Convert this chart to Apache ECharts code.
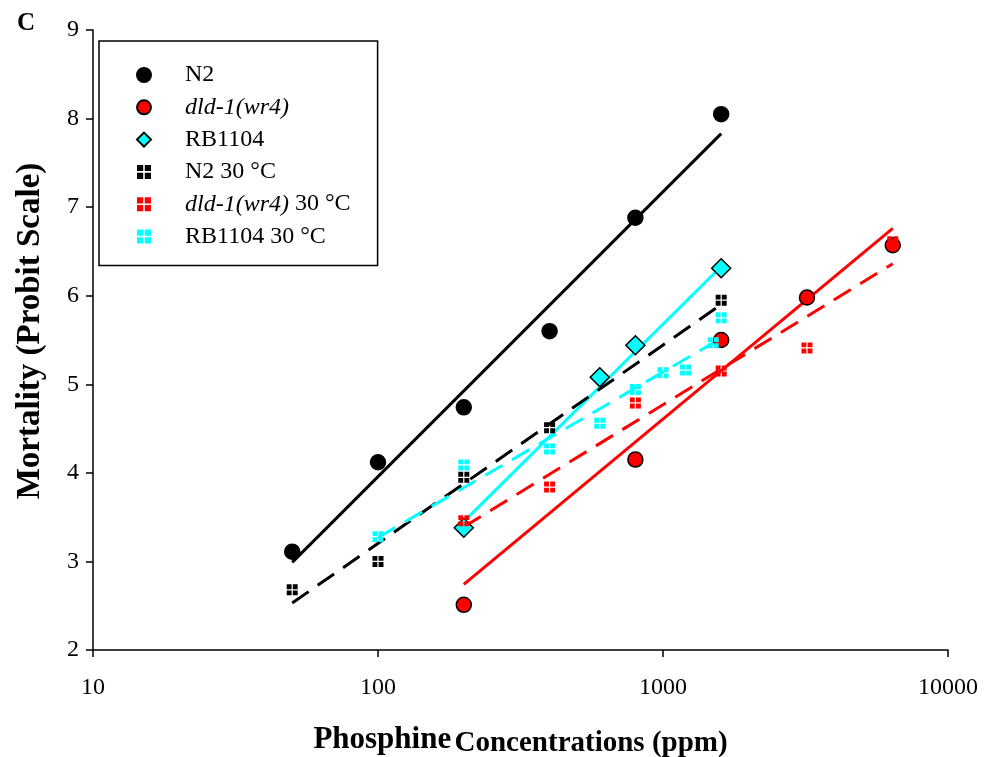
<!DOCTYPE html>
<html><head><meta charset="utf-8">
<script src="https://cdn.jsdelivr.net/npm/echarts@6/dist/echarts.min.js"></script>
<style>html,body{margin:0;padding:0;background:#fff}#c{width:986px;height:757px}</style>
</head><body><div id="c"></div>
<script>
// ---- data ----
const n2X = [50, 100, 200, 400, 800, 1600];
const n2Y = [3.11, 4.12, 4.74, 5.60, 6.88, 8.05];
const dldX = [200, 800, 1600, 3200, 6400];
const dldY = [2.51, 4.15, 5.50, 5.98, 6.57];
const rbX = [200, 600, 800, 1600];
const rbY = [3.38, 5.08, 5.44, 6.31];
const n2hX = [50, 100, 200, 400, 1600];
const n2hY = [2.68, 3.00, 3.95, 4.51, 5.95];
const dldhX = [200, 400, 800, 1600, 3200, 6400];
const dldhY = [3.46, 3.84, 4.79, 5.15, 5.41, 6.61];
const rbhX = [100, 200, 400, 600, 800, 1000, 1200, 1500, 1600];
const rbhY = [3.28, 4.09, 4.27, 4.56, 4.94, 5.13, 5.16, 5.47, 5.75];
// fitted regression lines (endpoints)
const fitN2 = [[50, 2.99], [1600, 7.83]];
const fitDld = [[200, 2.74], [6400, 6.76]];
const fitRb = [[200, 3.45], [1600, 6.33]];
const fitN2h = [[50, 2.53], [1600, 5.90]];
const fitDldh = [[200, 3.39], [6400, 6.36]];
const fitRbh = [[100, 3.27], [1600, 5.52]];
const xTicks = [10, 100, 1000, 10000];
const yTicks = [2, 3, 4, 5, 6, 7, 8, 9];
const names = ['N2', 'dld-1(wr4)', 'RB1104', 'N2 30 °C', 'dld-1(wr4) 30 °C', 'RB1104 30 °C'];

const zip = (xs, ys) => xs.map((x, i) => [x, ys[i]]);
const FONT = 'Liberation Serif';
const quad = 'path://M0,0H4V4H0Z M5,0H9V4H5Z M0,5H4V9H0Z M5,5H9V9H5Z';

function scatter(name, data, symbol, size, color, border) {
  return {
    name, type: 'scatter', data, symbol, symbolSize: size, z: 5,
    itemStyle: { color, borderColor: border ? '#000' : color, borderWidth: border ? 1.5 : 0, opacity: 1 }
  };
}
function fit(data, color, dashed) {
  return {
    type: 'line', data, symbol: 'none', silent: true, z: 3,
    lineStyle: { color, width: 3, type: dashed ? [20, 11] : 'solid' }
  };
}

const chart = echarts.init(document.getElementById('c'));
chart.setOption({
  animation: false,
  backgroundColor: '#fff',
  title: { text: 'C', left: 12, top: 6, textStyle: { fontFamily: FONT, fontWeight: 'bold', fontSize: 25, color: '#000' } },
  grid: { left: 93, right: 38, top: 30, bottom: 107, containLabel: false, outerBoundsMode: 'none' },
  xAxis: {
    type: 'log', logBase: 10, min: xTicks[0], max: xTicks[xTicks.length - 1],
    axisLine: { lineStyle: { color: '#000', width: 1.5 } },
    axisTick: { inside: false, length: 7, lineStyle: { color: '#000', width: 1.5 } },
    minorTick: { show: false }, splitLine: { show: false },
    axisLabel: { fontFamily: FONT, fontSize: 24, color: '#000', margin: 26, formatter: v => String(Math.round(v)) },
    name: '{a|Phosphine} {b|Concentrations (ppm)}', nameLocation: 'middle', nameGap: 72,
    nameTextStyle: { rich: {
      a: { fontFamily: FONT, fontWeight: 'bold', fontSize: 31, color: '#000' },
      b: { fontFamily: FONT, fontWeight: 'bold', fontSize: 29, color: '#000', padding: [7, 0, 0, 0] } } }
  },
  yAxis: {
    type: 'value', min: yTicks[0], max: yTicks[yTicks.length - 1], interval: 1,
    axisLine: { show: true, lineStyle: { color: '#000', width: 1.5 } },
    axisTick: { show: true, inside: false, length: 7, lineStyle: { color: '#000', width: 1.5 } },
    splitLine: { show: false },
    axisLabel: { fontFamily: FONT, fontSize: 24, color: '#000', margin: 14 },
    name: 'Mortality (Probit Scale)', nameLocation: 'middle', nameGap: 46,
    nameTextStyle: { fontFamily: FONT, fontWeight: 'bold', fontSize: 33, color: '#000', padding: [0, 0, 0, 18] }
  },
  legend: {
    orient: 'vertical', left: 99, top: 41, data: names,
    backgroundColor: '#fff', borderColor: '#000', borderWidth: 1.5,
    padding: [22, 27, 17, 37], itemGap: 8.3, itemWidth: 14, itemHeight: 14,
    formatter: n => n.startsWith('dld') ? '{i|dld-1(wr4)}' + n.slice(10) : n,
    textStyle: { fontFamily: FONT, fontSize: 24, color: '#000', padding: [0, 0, 0, 29],
      rich: { i: { fontFamily: FONT, fontSize: 24, fontStyle: 'italic', color: '#000' } } }
  },
  series: [
    fit(fitN2, '#000', false),
    fit(fitDld, '#ff0000', false),
    fit(fitRb, '#00ffff', false),
    fit(fitN2h, '#000', true),
    fit(fitDldh, '#ff0000', true),
    fit(fitRbh, '#00ffff', true),
    scatter(names[0], zip(n2X, n2Y), 'circle', 15, '#000', true),
    scatter(names[1], zip(dldX, dldY), 'circle', 15, '#ff0000', true),
    scatter(names[2], zip(rbX, rbY), 'diamond', 19, '#00ffff', true),
    scatter(names[3], zip(n2hX, n2hY), quad, 11, '#000', false),
    scatter(names[4], zip(dldhX, dldhY), quad, 11, '#ff0000', false),
    scatter(names[5], zip(rbhX, rbhY), quad, 11, '#00ffff', false)
  ]
});
</script></body></html>
